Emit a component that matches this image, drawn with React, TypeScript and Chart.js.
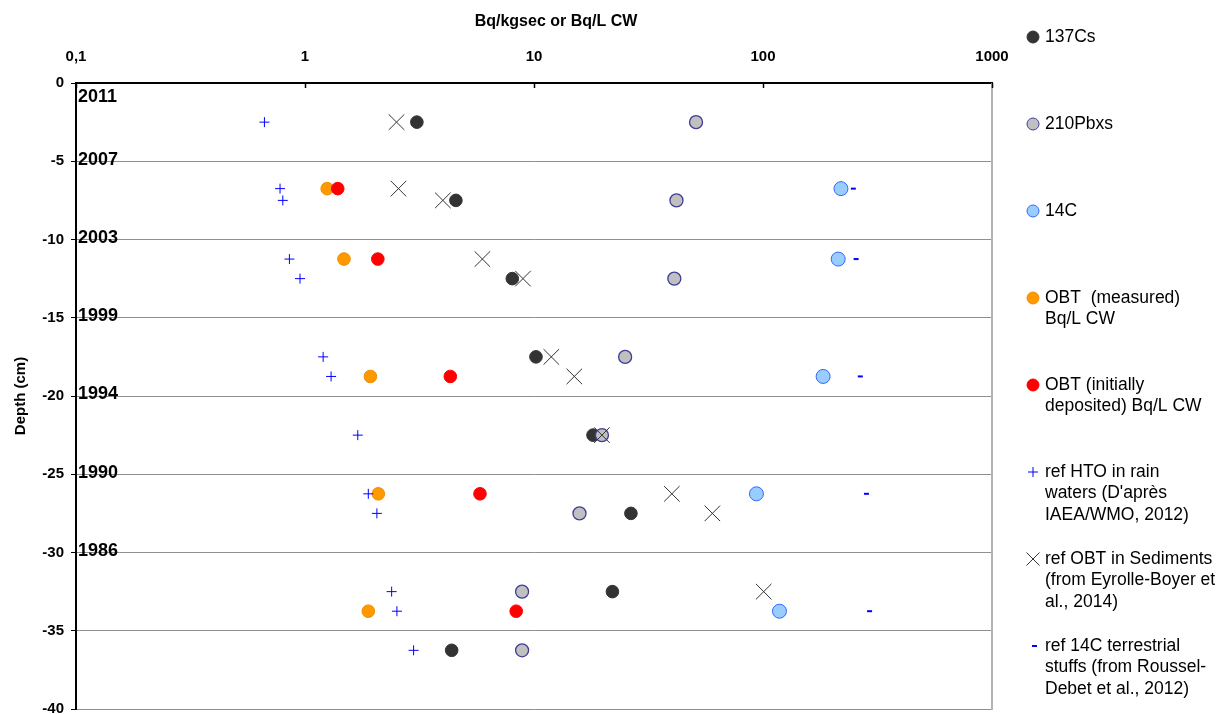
import React, { useEffect, useRef } from 'react';
import { Chart, registerables } from 'chart.js';

Chart.register(...registerables);

// ---- data (x = Bq/kgsec or Bq/L CW, y = depth in cm) ----
const cs137Depth = [-2.5, -7.5, -12.5, -17.5, -22.5, -27.5, -32.5, -36.25];
const cs137Value = [3.08, 4.56, 8.04, 10.2, 18.1, 26.5, 22.0, 4.37];

const pb210Depth = [-2.5, -7.5, -12.5, -17.5, -22.5, -27.5, -32.5, -36.25];
const pb210Value = [51, 41.9, 41.0, 25.0, 19.8, 15.8, 8.87, 8.87];

const c14Depth = [-6.75, -11.25, -18.75, -26.25, -33.75];
const c14Value = [219, 213, 183, 93.6, 118];

const obtMeasDepth = [-6.75, -11.25, -18.75, -26.25, -33.75];
const obtMeasValue = [1.25, 1.48, 1.93, 2.09, 1.89];

const obtInitDepth = [-6.75, -11.25, -18.75, -26.25, -33.75];
const obtInitValue = [1.39, 2.08, 4.31, 5.81, 8.36];

const htoDepth = [-2.5, -6.75, -7.5, -11.25, -12.5, -17.5, -18.75, -22.5, -26.25, -27.5, -32.5, -33.75, -36.25];
const htoValue = [0.665, 0.778, 0.8, 0.855, 0.951, 1.2, 1.3, 1.7, 1.89, 2.06, 2.39, 2.52, 2.98];

const sedDepth = [-2.5, -6.75, -7.5, -11.25, -12.5, -17.5, -18.75, -22.5, -26.25, -27.5, -32.5];
const sedValue = [2.51, 2.56, 4.0, 5.95, 8.95, 11.9, 15.0, 19.8, 40, 60.1, 100.7];

const terrDepth = [-6.75, -11.25, -18.75, -26.25, -33.75];
const terrValue = [248, 255, 266, 283, 292];

const xTickValues = [0.1, 1, 10, 100, 1000];
const xTickLabels = ['0,1', '1', '10', '100', '1000'];

const yearLabels = ['2011', '2007', '2003', '1999', '1994', '1990', '1986'];
const yearDepths = [0, -5, -10, -15, -20, -25, -30];

const seriesNames = [
  ['137Cs'],
  ['210Pbxs'],
  ['14C'],
  ['OBT  (measured)', 'Bq/L CW'],
  ['OBT (initially', 'deposited) Bq/L CW'],
  ['ref HTO in rain', "waters (D'après", 'IAEA/WMO, 2012)'],
  ['ref OBT in Sediments', '(from Eyrolle-Boyer et', 'al., 2014)'],
  ['ref 14C terrestrial', 'stuffs (from Roussel-', 'Debet et al., 2012)'],
];

const FONT = "'Liberation Sans', Arial, sans-serif";

const toPts = (xs: number[], ys: number[]) => xs.map((x, i) => ({ x, y: ys[i] }));

type Marker = { kind: 'circle' | 'plus' | 'x' | 'dash'; fill: string; stroke: string };
const markers: Marker[] = [
  { kind: 'circle', fill: '#333333', stroke: '#333333' },
  { kind: 'circle', fill: '#c0c0c0', stroke: '#3d3d99' },
  { kind: 'circle', fill: '#99ccff', stroke: '#3366ff' },
  { kind: 'circle', fill: '#ff9900', stroke: '#f08c00' },
  { kind: 'circle', fill: '#ff0000', stroke: '#ff0000' },
  { kind: 'plus', fill: '#0000ff', stroke: '#0000ff' },
  { kind: 'x', fill: '#333333', stroke: '#333333' },
  { kind: 'dash', fill: '#0000ff', stroke: '#0000ff' },
];

const decorPlugin = {
  id: 'decor',
  afterDraw(chart: any) {
    const { ctx, chartArea, scales } = chart;
    const { left, right, top, bottom } = chartArea;
    const xs = scales.x;
    const ys = scales.y;
    ctx.save();

    // right frame
    ctx.strokeStyle = '#b4b4b4';
    ctx.lineWidth = 2;
    ctx.beginPath();
    ctx.moveTo(right, top);
    ctx.lineTo(right, bottom + 1);
    ctx.stroke();

    // inner tick marks on top axis
    ctx.strokeStyle = '#000';
    ctx.lineWidth = 1.5;
    xTickValues.forEach((v) => {
      const px = Math.round(xs.getPixelForValue(v)) + 0.5;
      ctx.beginPath();
      ctx.moveTo(px, top);
      ctx.lineTo(px, top + 5);
      ctx.stroke();
    });

    // year labels
    ctx.fillStyle = '#000';
    ctx.font = `bold 18px ${FONT}`;
    ctx.textAlign = 'left';
    ctx.textBaseline = 'middle';
    yearLabels.forEach((t, i) => {
      const py = Math.max(ys.getPixelForValue(yearDepths[i]) - 1.5, top + 14);
      ctx.fillText(t, left + 2, py);
    });

    // x axis title
    ctx.font = `bold 16px ${FONT}`;
    ctx.textAlign = 'center';
    ctx.fillText('Bq/kgsec or Bq/L CW', (left + right) / 2 + 22, 22);

    // legend
    const mx = right + 41;
    const tx = right + 53;
    ctx.font = `17.5px ${FONT}`;
    ctx.textAlign = 'left';
    seriesNames.forEach((lines, i) => {
      const y0 = 37 + i * 87;
      const m = markers[i];
      ctx.save();
      if (m.kind === 'circle') {
        ctx.beginPath();
        ctx.arc(mx, y0, 6, 0, Math.PI * 2);
        ctx.fillStyle = m.fill;
        ctx.fill();
        ctx.lineWidth = 1;
        ctx.strokeStyle = m.stroke;
        ctx.stroke();
      } else if (m.kind === 'plus') {
        ctx.strokeStyle = m.stroke;
        ctx.lineWidth = 1;
        ctx.beginPath();
        ctx.moveTo(mx - 5, y0);
        ctx.lineTo(mx + 5, y0);
        ctx.moveTo(mx, y0 - 5);
        ctx.lineTo(mx, y0 + 5);
        ctx.stroke();
      } else if (m.kind === 'x') {
        ctx.strokeStyle = m.stroke;
        ctx.lineWidth = 1;
        ctx.beginPath();
        ctx.moveTo(mx - 6.5, y0 - 6.5);
        ctx.lineTo(mx + 6.5, y0 + 6.5);
        ctx.moveTo(mx + 6.5, y0 - 6.5);
        ctx.lineTo(mx - 6.5, y0 + 6.5);
        ctx.stroke();
      } else {
        ctx.strokeStyle = m.stroke;
        ctx.lineWidth = 2;
        ctx.beginPath();
        ctx.moveTo(mx - 1, y0);
        ctx.lineTo(mx + 4, y0);
        ctx.stroke();
      }
      ctx.restore();
      ctx.fillStyle = '#000';
      lines.forEach((ln, j) => ctx.fillText(ln, tx, y0 + j * 21.5));
    });

    ctx.restore();
  },
};

export default function App() {
  const ref = useRef<HTMLCanvasElement | null>(null);

  useEffect(() => {
    if (!ref.current) return;
    const circle = (data: any, m: Marker, r: number, bw: number, order: number) => ({
      data,
      order,
      showLine: false,
      pointStyle: 'circle',
      pointRadius: r,
      pointBackgroundColor: m.fill,
      pointBorderColor: m.stroke,
      pointBorderWidth: bw,
    });
    const chart = new Chart(ref.current, {
      type: 'scatter',
      data: {
        datasets: [
          { label: '137Cs', ...circle(toPts(cs137Value, cs137Depth), markers[0], 6.3, 1, 8) },
          { label: '210Pbxs', ...circle(toPts(pb210Value, pb210Depth), markers[1], 6.5, 1.3, 7) },
          { label: '14C', ...circle(toPts(c14Value, c14Depth), markers[2], 7, 1, 6) },
          { label: 'OBT measured', ...circle(toPts(obtMeasValue, obtMeasDepth), markers[3], 6.3, 1, 5) },
          { label: 'OBT initially', ...circle(toPts(obtInitValue, obtInitDepth), markers[4], 6.3, 1, 4) },
          {
            label: 'ref HTO',
            data: toPts(htoValue, htoDepth),
            order: 3,
            pointStyle: 'cross',
            pointRadius: 5,
            pointBorderColor: '#0000ff',
            pointBackgroundColor: '#0000ff',
            pointBorderWidth: 1,
          },
          {
            label: 'ref OBT sediments',
            data: toPts(sedValue, sedDepth),
            order: 2,
            pointStyle: 'crossRot',
            pointRadius: 11,
            pointBorderColor: '#333333',
            pointBackgroundColor: '#333333',
            pointBorderWidth: 1,
          },
          {
            label: 'ref 14C terrestrial',
            data: toPts(terrValue, terrDepth),
            order: 1,
            pointStyle: 'line',
            pointRadius: 2.5,
            pointBorderColor: '#0000ff',
            pointBackgroundColor: '#0000ff',
            pointBorderWidth: 2,
          },
        ],
      },
      options: {
        responsive: false,
        animation: false,
        events: [],
        layout: { autoPadding: false, padding: { left: 0, top: 0, right: 233, bottom: 5 } },
        plugins: {
          legend: { display: false },
          tooltip: { enabled: false },
          title: { display: false },
        },
        scales: {
          x: {
            type: 'logarithmic',
            position: 'top',
            min: 0.1,
            max: 1000,
            afterBuildTicks: (s: any) => {
              s.ticks = xTickValues.map((v) => ({ value: v }));
            },
            afterFit: (s: any) => {
              s.height = 83;
              s.paddingLeft = 0;
              s.paddingRight = 0;
            },
            ticks: {
              autoSkip: false,
              maxRotation: 0,
              padding: 17,
              color: '#000',
              font: { family: FONT, size: 15, weight: 'bold' },
              callback: (v: any) => {
                const i = xTickValues.findIndex((t) => Math.abs(t - Number(v)) < 1e-9);
                return i >= 0 ? xTickLabels[i] : '';
              },
            },
            grid: { display: false, drawTicks: false },
            border: { display: true, color: '#000', width: 2 },
          },
          y: {
            type: 'linear',
            min: -40,
            max: 0,
            afterFit: (s: any) => {
              s.width = 76;
              s.paddingTop = 0;
              s.paddingBottom = 0;
            },
            ticks: {
              stepSize: 5,
              padding: 7,
              color: '#000',
              font: { family: FONT, size: 15, weight: 'bold' },
            },
            grid: { color: '#8f8f8f', tickColor: '#000', tickLength: 5, lineWidth: 1 },
            border: { display: true, color: '#000', width: 2 },
            title: {
              display: true,
              text: 'Depth (cm)',
              color: '#000',
              font: { family: FONT, size: 15, weight: 'bold' },
              padding: { top: 12, bottom: 0 },
            },
          },
        },
      } as any,
      plugins: [decorPlugin],
    });
    return () => chart.destroy();
  }, []);

  return (
    <div style={{ position: 'fixed', left: 0, top: 0, width: 1225, height: 714, background: '#fff' }}>
      <canvas ref={ref} width={1225} height={714} style={{ display: 'block' }} />
    </div>
  );
}
